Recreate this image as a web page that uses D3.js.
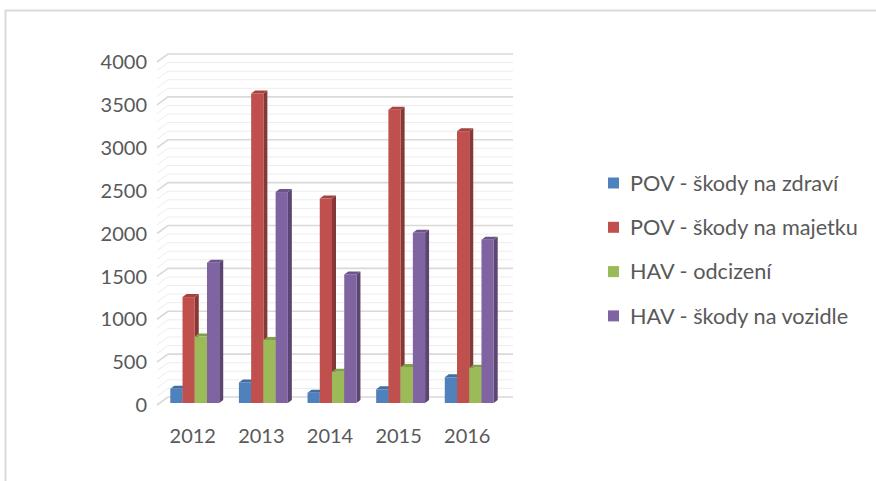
<!DOCTYPE html>
<html>
<head>
<meta charset="utf-8">
<script src="https://cdn.jsdelivr.net/npm/d3@7"></script>
<style>
  body { margin: 0; background: #fff; }
  text { font-family: Lato, "Liberation Sans", sans-serif; fill: #595959; }
</style>
</head>
<body>
<div id="chart"></div>
<script>
const years = ["2012", "2013", "2014", "2015", "2016"];
const seriesNames = ["POV - škody na zdraví", "POV - škody na majetku", "HAV - odcizení", "HAV - škody na vozidle"];
const seriesColors = ["#4f81bd", "#c0504d", "#9bbb59", "#8064a2"];
const povZdravi = [165, 240, 120, 160, 300];
const povMajetek = [1235, 3610, 2385, 3420, 3170];
const havOdcizeni = [775, 735, 365, 420, 410];
const havVozidlo = [1635, 2460, 1500, 1985, 1905];
const yTicks = [0, 500, 1000, 1500, 2000, 2500, 3000, 3500, 4000];

const allSeries = [povZdravi, povMajetek, havOdcizeni, havVozidlo];

const width = 876, height = 481;
const depthX = 11, depthY = -8;   // wall depth
const barDX = 4, barDY = -3;      // bar depth

const svg = d3.select("#chart").append("svg")
  .attr("width", width).attr("height", height);

// chart frame
svg.append("rect")
  .attr("x", 5.5).attr("y", 10.5)
  .attr("width", 900).attr("height", 500)
  .attr("fill", "none").attr("stroke", "#d9d9d9").attr("stroke-width", 2);

const y = d3.scaleLinear().domain([0, 4000]).range([405, 62]);
const wallX0 = 157, wallX1 = 502;

// gridlines: minor each 100, major each 500
const grid = d3.range(0, 4001, 100);
svg.append("g").selectAll("polyline")
  .data(grid)
  .join("polyline")
  .attr("points", d => [
    [wallX0, y(d)],
    [wallX0 + depthX, y(d) + depthY],
    [wallX1 + depthX, y(d) + depthY]
  ].join(" "))
  .attr("fill", "none")
  .attr("stroke", d => d % 500 === 0 ? "#d9d9d9" : "#ededed")
  .attr("stroke-width", d => d % 500 === 0 ? 1.6 : 1);

// y labels
svg.append("g").selectAll("text")
  .data(yTicks)
  .join("text")
  .attr("x", 147)
  .attr("y", d => y(d))
  .attr("dy", "0.36em")
  .attr("text-anchor", "end")
  .style("font-size", "20px")
  .text(d => d);

// bars
const x = d3.scaleBand().domain(years).range([161, 505]).paddingInner(0.287).paddingOuter(0.15);
const xs = d3.scaleBand().domain(d3.range(allSeries.length)).range([0, x.bandwidth()]);
const baseY = y(0) - 2;
const k = y(0) - y(1);

const bars = [];
years.forEach((yr, i) => {
  allSeries.forEach((s, j) => {
    bars.push({ year: yr, s: j, value: s[i] });
  });
});

const g = svg.append("g");
bars.forEach(b => {
  const x0 = x(b.year) + xs(b.s) - 1;
  const w = xs.bandwidth();
  const top = baseY - b.value * k;
  const c = d3.color(seriesColors[b.s]);
  // side face
  g.append("polygon")
    .attr("points", [[x0 + w, top], [x0 + w + barDX, top + barDY], [x0 + w + barDX, baseY + barDY], [x0 + w, baseY]].join(" "))
    .attr("fill", c.darker(1.0));
  // top face
  g.append("polygon")
    .attr("points", [[x0, top], [x0 + barDX, top + barDY], [x0 + w + barDX, top + barDY], [x0 + w, top]].join(" "))
    .attr("fill", c.darker(0.45));
  // front face
  g.append("rect")
    .attr("x", x0).attr("y", top)
    .attr("width", w).attr("height", baseY - top)
    .attr("fill", c);
});

// x labels
svg.append("g").selectAll("text")
  .data(years)
  .join("text")
  .attr("x", d => x(d) + x.bandwidth() / 2 - 3)
  .attr("y", 443)
  .attr("text-anchor", "middle")
  .style("font-size", "20px")
  .text(d => d);

// legend
const legend = svg.append("g").selectAll("g")
  .data(seriesNames)
  .join("g")
  .attr("transform", (d, i) => `translate(608, ${183 + i * 44.3})`);
legend.append("rect")
  .attr("x", 0).attr("y", -5.5).attr("width", 11).attr("height", 11)
  .attr("fill", (d, i) => seriesColors[i]);
legend.append("text")
  .attr("x", 22).attr("y", 0).attr("dy", "0.36em")
  .style("font-size", "21.7px")
  .text(d => d);
</script>
</body>
</html>
